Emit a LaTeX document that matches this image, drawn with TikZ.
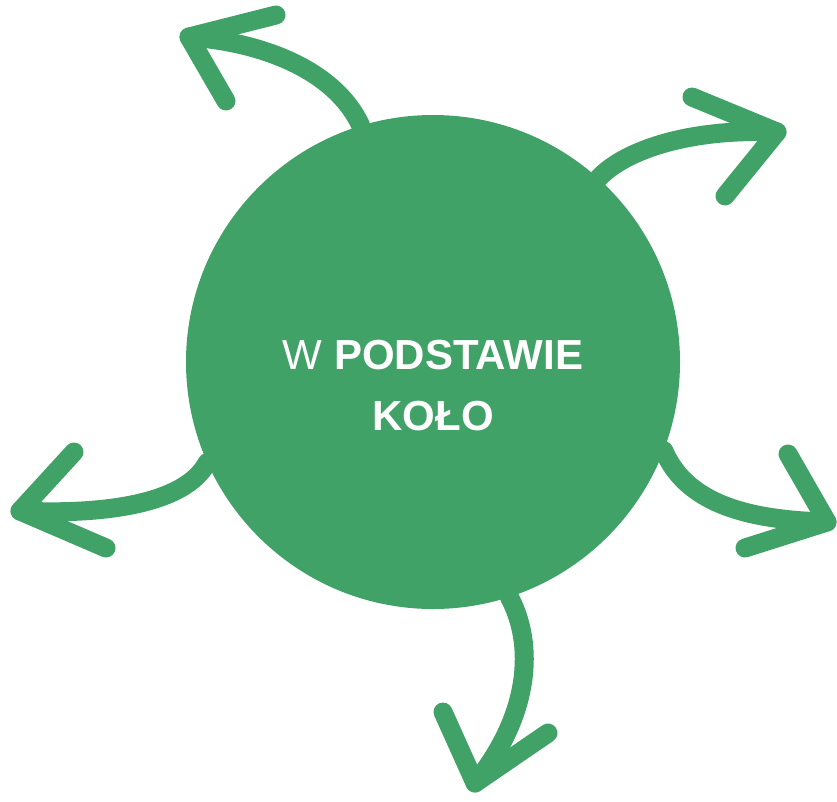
\documentclass[tikz,border=0pt]{standalone}
\usepackage{fontspec}
\setmainfont{Liberation Sans}
\usepackage{tikz}
\usetikzlibrary{calc, positioning}
\definecolor{leaf}{HTML}{41A267}

\begin{document}
\begin{tikzpicture}[x=1pt, y=-1pt,
    hub/.style={circle, fill=leaf, minimum size=494pt, inner sep=0pt},
    title/.style={text=white, align=center, font=\fontsize{42}{61}\selectfont},
    sweep/.style={leaf, line width=19pt, line cap=round, line join=round}]
  \useasboundingbox (0,0) rectangle (837,801);
  % hub
  \node[hub] (hub) at (433,362) {};
  \node[title] (name) at (433,386) {W \textbf{PODSTAWIE}\\\textbf{KOŁO}};
  % tips and barb ends
  \coordinate (ulTip) at (189,37);
  \coordinate (ulBarbA) at (276,15);
  \coordinate (ulBarbB) at (226,101);
  \coordinate (urTip) at (777,132);
  \coordinate (urBarbA) at (692,97);
  \coordinate (urBarbB) at (725,196);
  \coordinate (lrTip) at (827,522);
  \coordinate (lrBarbA) at (788,454);
  \coordinate (lrBarbB) at (745,548);
  \coordinate (dnTip) at (475,783);
  \coordinate (dnBarbA) at (443,712);
  \coordinate (dnBarbB) at (548,733);
  \coordinate (llTip) at (20,511);
  \coordinate (llBarbA) at (74,452);
  \coordinate (llBarbB) at (106,548);
  % arrow up-left
  \draw[sweep] (hub.107) .. controls (335,70) and (262,42) .. (ulTip);
  \draw[sweep] (ulBarbA) -- (ulTip) -- (ulBarbB);
  % arrow up-right
  \draw[sweep] (hub.48) .. controls (625,150) and (690,128) .. (urTip);
  \draw[sweep] (urBarbA) -- (urTip) -- (urBarbB);
  % arrow right
  \draw[sweep] (hub.-21) .. controls (685,500) and (740,520) .. (lrTip);
  \draw[sweep] (lrBarbA) -- (lrTip) -- (lrBarbB);
  % arrow down
  \draw[sweep] (hub.-72) .. controls (535,645) and (530,715) .. (dnTip);
  \draw[sweep] (dnBarbA) -- (dnTip) -- (dnBarbB);
  % arrow left
  \draw[sweep] (hub.204) .. controls (185,505) and (100,515) .. (llTip);
  \draw[sweep] (llBarbA) -- (llTip) -- (llBarbB);
\end{tikzpicture}
\end{document}
